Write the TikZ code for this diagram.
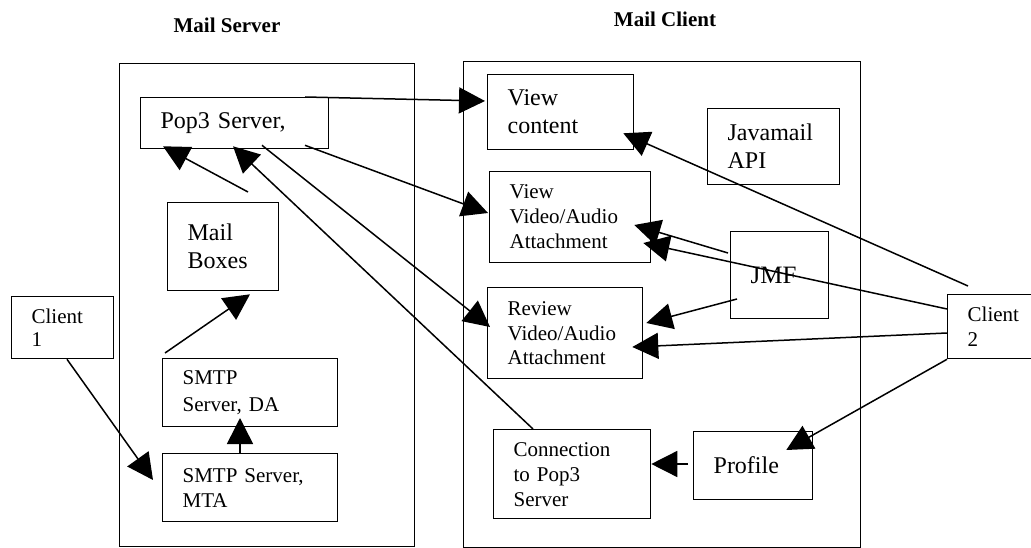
\documentclass[tikz,border=0pt]{standalone}
\usepackage{fontspec}
\setmainfont{Liberation Serif}
\usepackage{tikz}
\usetikzlibrary{arrows.meta,calc}

\begin{document}
\begin{tikzpicture}[x=1pt, y=-1pt]
\tikzstyle{frame} = [draw, line width=1.3pt, anchor=north west, inner sep=0pt]
\tikzstyle{box} = [draw, line width=1.3pt, anchor=north west, align=left, inner xsep=20pt, inner ysep=0pt]
\tikzstyle{big} = [font=\fontsize{24}{28}\selectfont]
\tikzstyle{small} = [font=\fontsize{21}{25}\selectfont]
\tikzstyle{title} = [font=\bfseries\fontsize{21}{25}\selectfont]
\tikzstyle{arrow} = [line width=1.5pt, -{Triangle[length=26pt,width=26pt]}]

\useasboundingbox (0,0) rectangle (1031,548);

\node [title] (srvtitle) at (227,25) {Mail Server};
\node [title] (clititle) at (665,19) {Mail Client};

\node [frame, minimum width=295pt, minimum height=483pt] (srv) at (119,63) {};
\node [frame, minimum width=397pt, minimum height=486pt] (cli) at (463,61) {};

\node [box, big, text width=148pt, minimum height=51pt] (pop) at (140,97) {Pop3 Server,};
\node [box, big, text width=71pt, minimum height=88pt] (mbox) at (167,202) {Mail\\Boxes};
\node [box, small, text width=135pt, minimum height=68pt] (smtpda) at (162,358) {SMTP\\[2pt]Server, DA};
\node [box, small, text width=135pt, minimum height=68pt] (smtpmta) at (162,453) {SMTP Server,\\MTA};
\node [box, small, text width=62pt, minimum height=62pt, font=\fontsize{21}{23}\selectfont] (cl1) at (11,296) {Client\\1};

\node [box, big, text width=106pt, minimum height=75pt] (vcont) at (487,74) {View\\content};
\node [box, big, text width=92pt, minimum height=76pt] (japi) at (707,108) {Javamail\\API};
\node [box, small, text width=121pt, minimum height=91pt] (vvid) at (489,171) {View\\Video/Audio\\Attachment};
\node [box, font=\fontsize{25}{28}\selectfont, text width=58pt, minimum height=87pt] (jmf) at (730,231) {JMF};
\node [box, small, text width=115pt, minimum height=91pt] (rvid) at (487,287) {Review\\Video/Audio\\Attachment};
\node [box, small, text width=70pt, minimum height=64pt] (cl2) at (947,294) {Client\\2};
\node [box, small, text width=117pt, minimum height=89pt] (conn) at (493,429) {Connection\\to Pop3\\Server};
\node [box, big, text width=79pt, minimum height=68pt] (prof) at (693,431) {Profile};

\draw [arrow] ($(pop.north west)+(165,0)$) -- ($(vcont.north west)+(-2,27)$);
\draw [arrow] ($(pop.south west)+(165,-4)$) -- ($(vvid.north west)+(-1,42)$);
\draw [arrow] ($(mbox.north west)+(81,-10)$) -- ($(pop.south west)+(23,-3)$);
\draw [arrow] ($(conn.north west)+(40,0)$) -- ($(pop.south west)+(93,-3)$);
\draw [arrow] ($(pop.south west)+(122,-4)$) -- ($(rvid.north west)+(3,40)$);
\draw [arrow] ($(cl2.north west)+(21,-8)$) -- ($(vcont.south east)+(-11,-17)$);
\draw [arrow] ($(jmf.north west)+(-2,22)$) -- ($(vvid.north east)+(-17,54)$);
\draw [arrow] ($(cl2.north west)+(0,15)$) -- ($(vvid.north east)+(-8,72)$);
\draw [arrow] ($(jmf.north west)+(7,68)$) -- ($(rvid.north east)+(3,36)$);
\draw [arrow] ($(cl2.north west)+(0,39)$) -- ($(rvid.north east)+(-11,60)$);
\draw [arrow] (cl2.south west) -- ($(prof.north east)+(-27,19)$);
\draw [arrow] ($(prof.north west)+(-5,33)$) -- ($(conn.north east)+(0,35)$);
\draw [arrow] ($(smtpmta.north west)+(78,0)$) -- ($(smtpda.north west)+(78,60)$);
\draw [arrow] ($(smtpda.north west)+(3,-5)$) -- ($(mbox.south west)+(83,3)$);
\draw [arrow] ($(cl1.south west)+(56,0)$) -- ($(smtpmta.north west)+(-9,27)$);
\end{tikzpicture}
\end{document}
